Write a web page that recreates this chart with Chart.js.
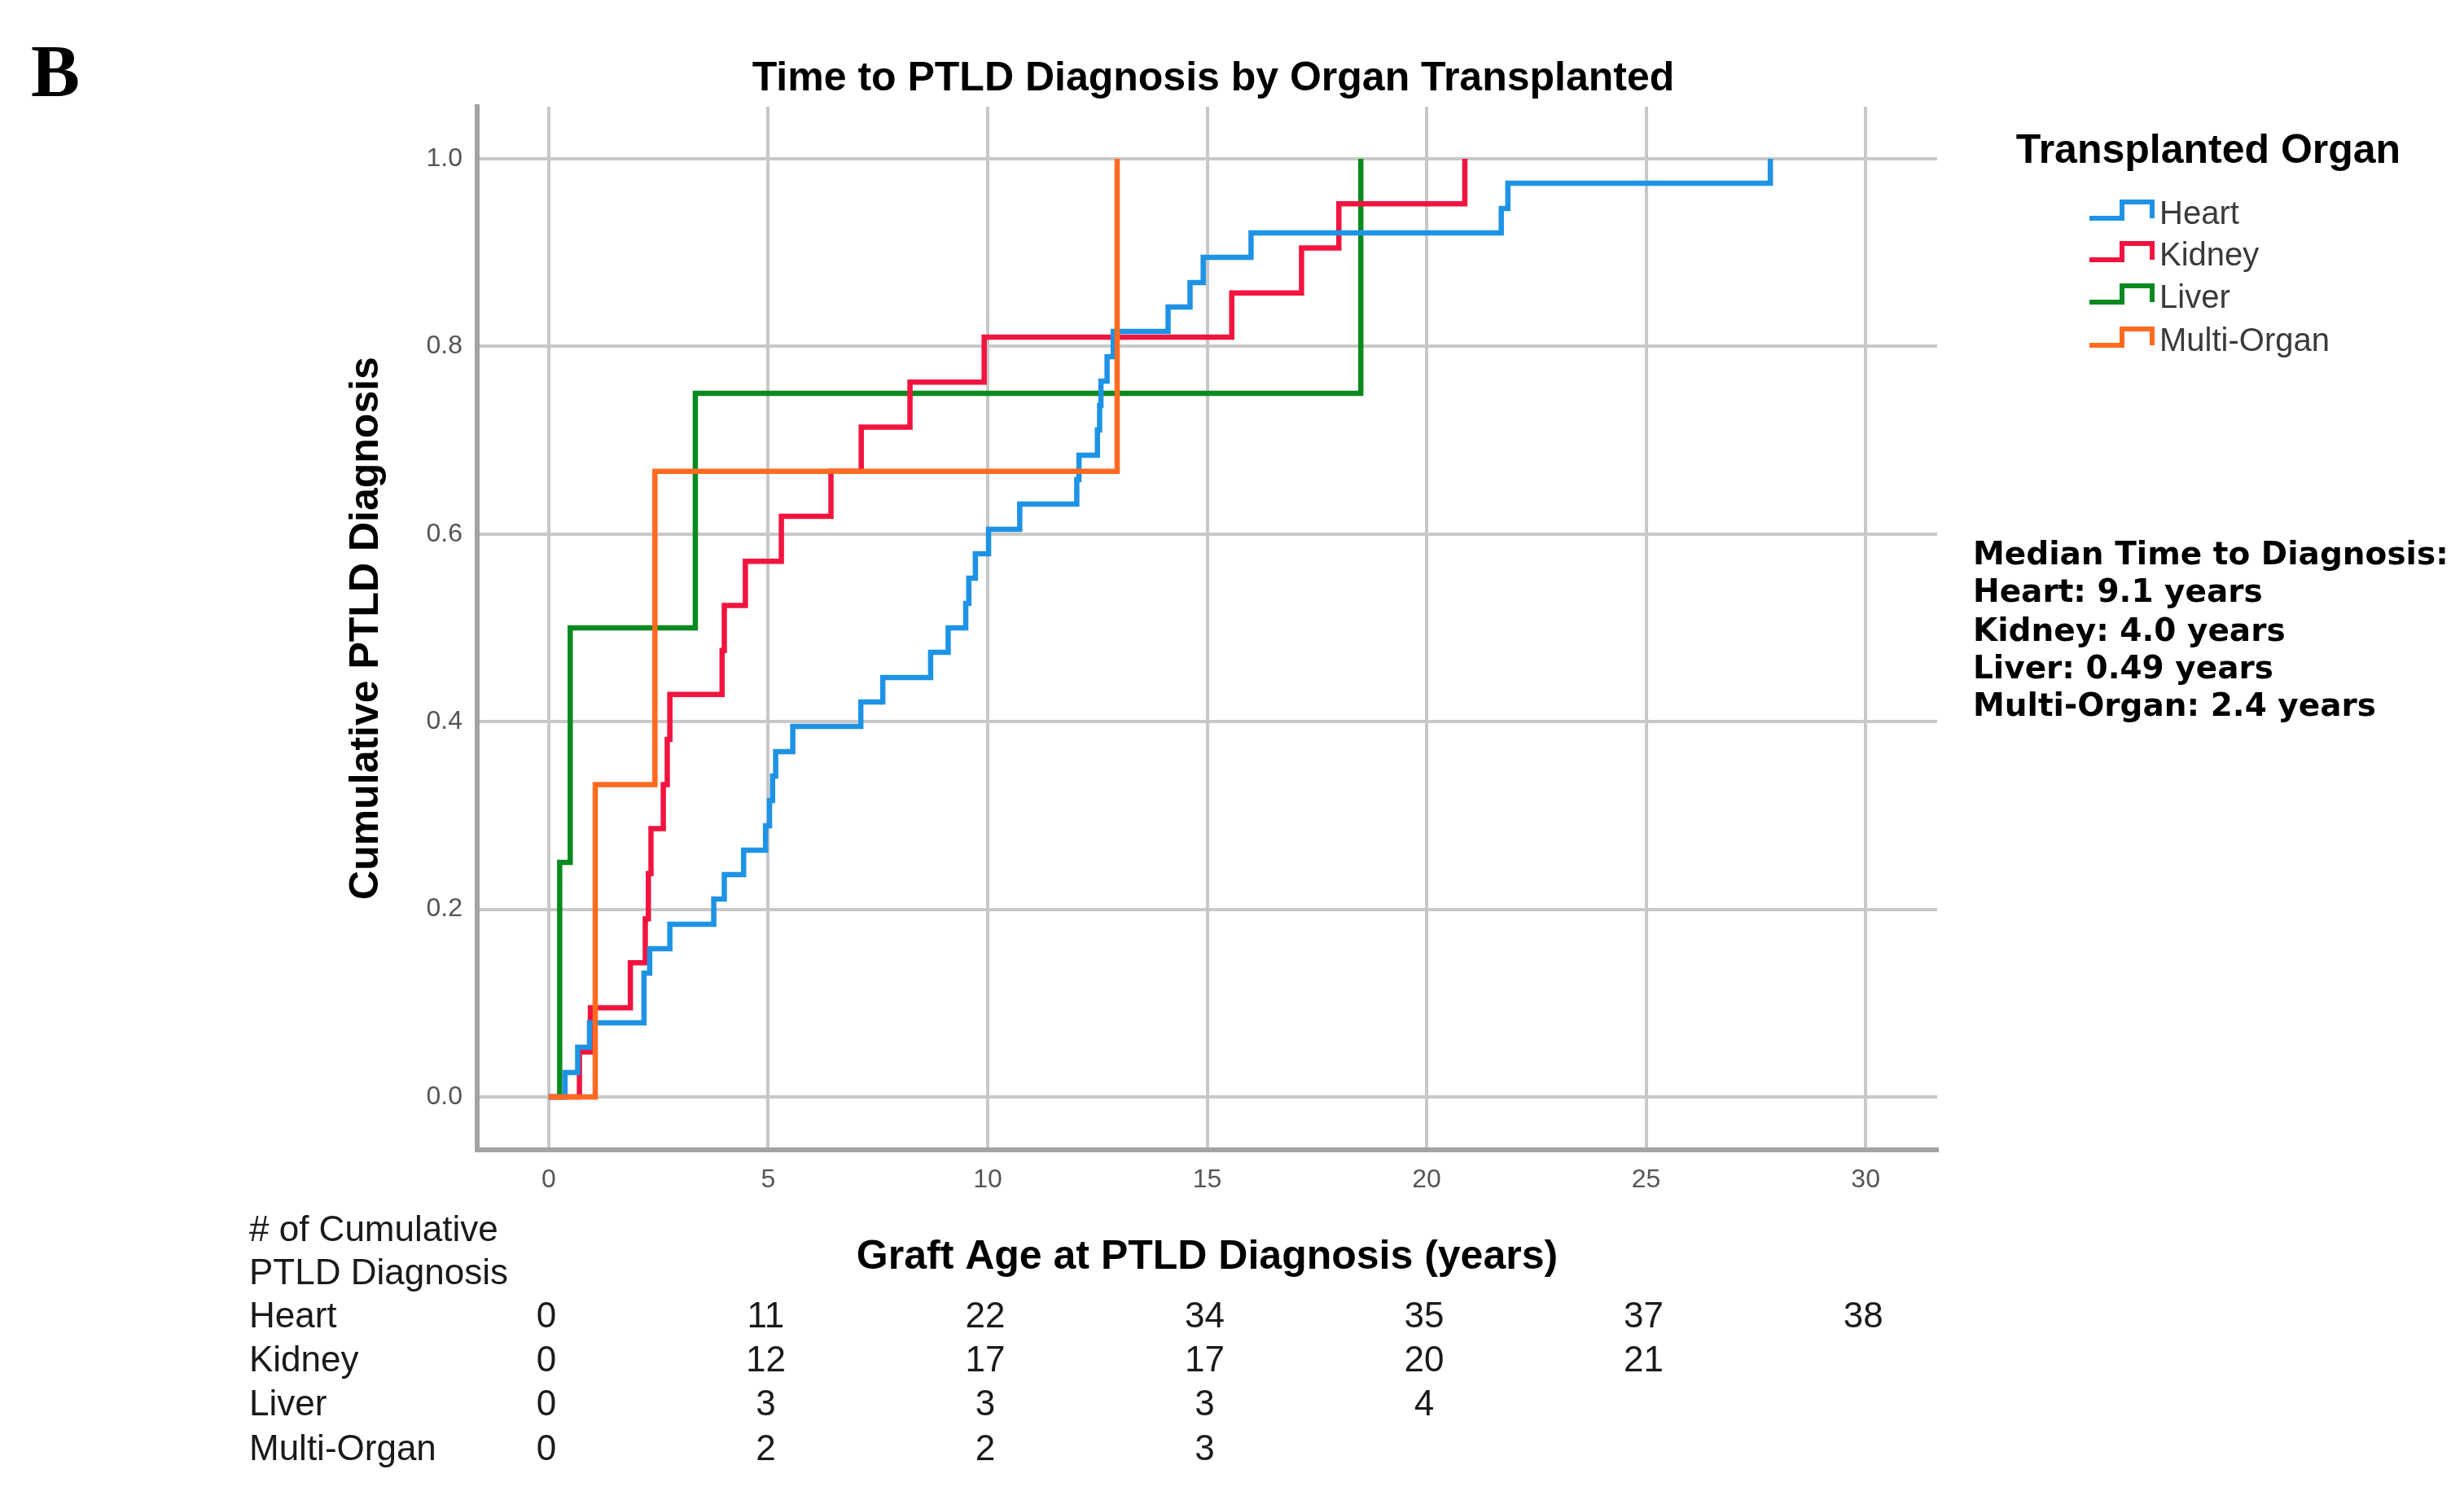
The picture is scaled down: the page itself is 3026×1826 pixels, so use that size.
<!DOCTYPE html>
<html><head><meta charset="utf-8">
<script src="https://cdn.jsdelivr.net/npm/chart.js@4.4.1/dist/chart.umd.min.js"></script>
<style>html,body{margin:0;padding:0;background:#fff;}canvas{display:block;}</style>
</head><body>
<canvas id="c" width="3026" height="1826" style="width:3026px;height:1826px"></canvas>
<script>
// ---- data ----
const panelLabel = 'B';
const chartTitle = 'Time to PTLD Diagnosis by Organ Transplanted';
const xTitle = 'Graft Age at PTLD Diagnosis (years)';
const yTitle = 'Cumulative PTLD Diagnosis';
const seriesNames = ['Heart', 'Kidney', 'Liver', 'Multi-Organ'];
const seriesColors = ['#1e93e6', '#f2143f', '#0a8a1e', '#ff6a1f'];

const heartTimes  = [0.37,0.66,0.93,2.17,2.30,2.76,3.76,4.00,4.44,4.94,5.03,5.10,5.17,5.56,7.11,7.61,8.70,9.10,9.50,9.57,9.72,10.02,10.73,12.03,12.08,12.50,12.55,12.58,12.72,12.86,14.11,14.61,14.91,16.00,21.70,21.85,27.83];
const heartValues = [0.026,0.053,0.079,0.132,0.158,0.184,0.211,0.237,0.263,0.289,0.316,0.342,0.368,0.395,0.421,0.447,0.474,0.500,0.526,0.553,0.579,0.605,0.632,0.658,0.684,0.711,0.737,0.763,0.789,0.816,0.842,0.868,0.895,0.921,0.947,0.974,1.000];

const kidneyTimes  = [0.70,0.95,1.86,2.20,2.27,2.33,2.61,2.70,2.76,3.95,4.00,4.48,5.30,6.43,7.12,8.23,9.92,15.56,17.15,18.00,20.87];
const kidneyValues = [0.048,0.095,0.143,0.190,0.238,0.286,0.333,0.381,0.429,0.476,0.524,0.571,0.619,0.667,0.714,0.762,0.810,0.857,0.905,0.952,1.000];

const liverTimes  = [0.25,0.49,3.34,18.50];
const liverValues = [0.25,0.50,0.75,1.00];

const multiTimes  = [1.06,2.42,12.95];
const multiValues = [0.333,0.667,1.000];

const xTickValues = [0,5,10,15,20,25,30];
const yTickValues = [0,0.2,0.4,0.6,0.8,1.0];

const riskHeader = ['# of Cumulative', 'PTLD Diagnosis'];
const riskTicks  = [0,5,10,15,20,25,30];
const riskHeart  = [0,11,22,34,35,37,38];
const riskKidney = [0,12,17,17,20,21];
const riskLiver  = [0,3,3,3,4];
const riskMulti  = [0,2,2,3];

const legendTitle = 'Transplanted Organ';
const medianLines = ['Median Time to Diagnosis:', 'Heart: 9.1 years', 'Kidney: 4.0 years', 'Liver: 0.49 years', 'Multi-Organ: 2.4 years'];

// ---- build ----
const toPoints = (t, v) => [{x:0, y:0}].concat(t.map((ti, i) => ({x: ti, y: v[i]})));
const allSeries = [toPoints(heartTimes, heartValues), toPoints(kidneyTimes, kidneyValues), toPoints(liverTimes, liverValues), toPoints(multiTimes, multiValues)];
const datasets = allSeries.map((pts, i) => ({
  label: seriesNames[i], data: pts, borderColor: seriesColors[i], backgroundColor: seriesColors[i],
  borderWidth: 6.5, pointRadius: 0, pointHoverRadius: 0, stepped: 'before', fill: false, tension: 0,
  borderJoinStyle: 'miter', borderCapStyle: 'butt', order: i === 3 ? 0 : i + 1
}));

const extras = {
  id: 'extras',
  afterDraw(chart) {
    const ctx = chart.ctx;
    const xs = chart.scales.x;
    ctx.save();
    ctx.fillStyle = '#000';
    // panel label
    ctx.font = 'bold 90px "Liberation Serif"';
    ctx.textAlign = 'left'; ctx.textBaseline = 'alphabetic';
    ctx.fillText(panelLabel, 38, 118);
    // title
    ctx.font = 'bold 50px "Liberation Sans"';
    ctx.textAlign = 'center'; ctx.textBaseline = 'middle';
    ctx.fillText(chartTitle, 1490, 97);
    // legend
    ctx.fillText(legendTitle, 2712, 186);
    const rows = [264, 315, 367, 420];
    ctx.font = '40px "Liberation Sans"';
    ctx.textAlign = 'left';
    rows.forEach((ry, i) => {
      ctx.beginPath();
      ctx.strokeStyle = seriesColors[i];
      ctx.lineWidth = 6; ctx.lineJoin = 'miter';
      ctx.moveTo(2566, ry + 4); ctx.lineTo(2606, ry + 4); ctx.lineTo(2606, ry - 16);
      ctx.lineTo(2643, ry - 16); ctx.lineTo(2643, ry + 4);
      ctx.stroke();
      ctx.fillStyle = '#3a3a3a';
      ctx.fillText(seriesNames[i], 2652, ry);
    });
    // median text
    ctx.fillStyle = '#000';
    ctx.font = 'bold 39px "DejaVu Sans"';
    const my = [683, 729, 777, 823, 869];
    medianLines.forEach((s, i) => ctx.fillText(s, 2423, my[i]));
    // risk table
    ctx.fillStyle = '#1a1a1a';
    ctx.font = '44px "Liberation Sans"';
    ctx.fillText(riskHeader[0], 306, 1512);
    ctx.fillText(riskHeader[1], 306, 1565);
    const tableRows = [riskHeart, riskKidney, riskLiver, riskMulti];
    const ty = [1618, 1672, 1726, 1781];
    tableRows.forEach((vals, r) => {
      ctx.textAlign = 'left';
      ctx.fillText(seriesNames[r], 306, ty[r]);
      ctx.textAlign = 'center';
      vals.forEach((v, j) => ctx.fillText(String(v), xs.getPixelForValue(riskTicks[j]) - 3, ty[r]));
    });
    ctx.restore();
  }
};

new Chart(document.getElementById('c'), {
  type: 'line',
  data: { datasets },
  options: {
    responsive: false, animation: false, devicePixelRatio: 1,
    layout: { padding: { left: 400, top: 131, right: 647, bottom: 244 } },
    plugins: { legend: { display: false }, title: { display: false }, tooltip: { enabled: false } },
    scales: {
      x: {
        type: 'linear', min: -1.63, max: 31.63,
        afterBuildTicks: s => { s.ticks = xTickValues.map(v => ({ value: v })); },
        afterFit: s => { s.height = 170; },
        ticks: { font: { family: 'Liberation Sans', size: 32 }, color: '#555', padding: 18, maxRotation: 0, autoSkip: false, callback: v => String(v) },
        grid: { color: '#c8c8c8', lineWidth: 4, drawTicks: false, tickLength: 0 },
        border: { display: true, color: '#a3a3a3', width: 6 },
        title: { display: true, text: xTitle, color: '#000', font: { family: 'Liberation Sans', size: 50, weight: 'bold' }, padding: { top: 0, bottom: 8 } }
      },
      y: {
        type: 'linear', min: -0.0564, max: 1.0556,
        afterBuildTicks: s => { s.ticks = yTickValues.map(v => ({ value: v })); },
        afterFit: s => { s.width = 186; },
        ticks: { font: { family: 'Liberation Sans', size: 32 }, color: '#555', padding: 18, autoSkip: false, callback: v => Number(v).toFixed(1) },
        grid: { color: '#c8c8c8', lineWidth: 4, drawTicks: false, tickLength: 0 },
        border: { display: true, color: '#a3a3a3', width: 6 },
        title: { display: true, text: yTitle, color: '#000', font: { family: 'Liberation Sans', size: 50, weight: 'bold' }, padding: { top: 20, bottom: 0 } }
      }
    }
  },
  plugins: [extras]
});
</script>
</body></html>
